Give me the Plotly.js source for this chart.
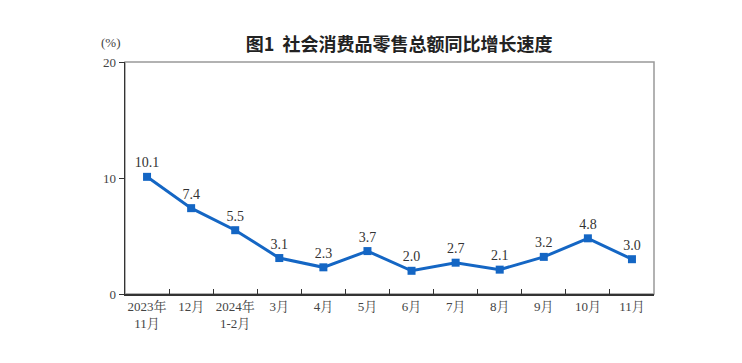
<!DOCTYPE html>
<html><head><meta charset="utf-8">
<script src="https://cdn.plot.ly/plotly-3.0.1.min.js"></script>
<style>body{margin:0;background:#fff}#c{width:742px;height:363px}</style>
</head><body><div id="c"></div>
<script>
const categories = ["2023年<br>11月","12月","2024年<br>1-2月","3月","4月","5月","6月","7月","8月","9月","10月","11月"];
const growth = [10.1, 7.4, 5.5, 3.1, 2.3, 3.7, 2.0, 2.7, 2.1, 3.2, 4.8, 3.0];
const labels = growth.map(v => v.toFixed(1));

const serif = 'Liberation Serif, Times New Roman, Noto Serif CJK SC, Noto Sans CJK SC, serif';
const trace = {
  x: categories, y: growth, type: 'scatter', mode: 'lines+markers+text',
  text: labels, textposition: 'top center',
  textfont: {family: serif, size: 14, color: '#333'},
  line: {color: '#1466c4', width: 3},
  marker: {symbol: 'square', size: 8, color: '#1466c4'},
  cliponaxis: false, hoverinfo: 'none'
};
const layout = {
  width: 742, height: 363,
  margin: {l: 125, r: 88, t: 62, b: 69},
  paper_bgcolor: '#fff', plot_bgcolor: '#fff',
  showlegend: false,
  title: {text: '<b>图1  社会消费品零售总额同比增长速度</b>', x: 0.538, xanchor: 'center', y: 0.876, yanchor: 'middle',
          font: {family: 'Noto Sans CJK SC, sans-serif', size: 18, color: '#222'}},
  xaxis: {type: 'category', range: [-0.5, 11.5], tickson: 'boundaries', ticks: 'inside', ticklen: 5, tickcolor: '#333', tickangle: 0,
          showline: true, linecolor: '#333', linewidth: 1.5, showgrid: false, zeroline: false,
          tickfont: {family: serif, size: 13, color: '#444'}, fixedrange: true},
  yaxis: {range: [0, 20], dtick: 10, ticks: 'outside', ticklen: 5, tickcolor: '#333',
          showline: true, linecolor: '#333', linewidth: 1.5, showgrid: false, zeroline: false,
          tickfont: {family: serif, size: 13, color: '#444'}, fixedrange: true},
  shapes: [{type: 'rect', xref: 'paper', yref: 'paper', x0: 0, x1: 1, y0: 0, y1: 1,
            line: {color: '#999', width: 1.5}, layer: 'below'}],
  annotations: [{text: '(%)', xref: 'paper', yref: 'paper', x: -0.026, y: 1.082, xanchor: 'center', yanchor: 'middle',
                 showarrow: false, font: {family: serif, size: 13, color: '#444'}}]
};
Plotly.newPlot('c', [trace], layout, {displayModeBar: false, staticPlot: true});
</script></body></html>
